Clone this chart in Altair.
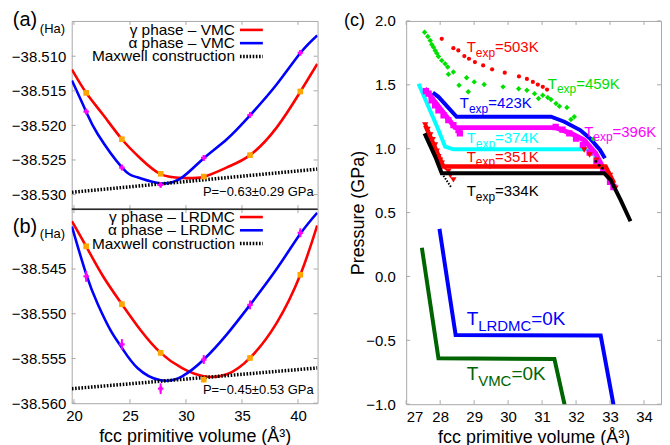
import altair as alt
import pandas as pd

FONT = "Liberation Sans"
FRAME = "#a8a8a8"

# ---------------- panels (a) and (b): energy vs volume ----------------
vol_pts = [21.09, 24.28, 27.74, 31.59, 35.72, 40.21]

vmc_gamma_E = [-38.5153, -38.5220, -38.5270, -38.5274, -38.5243, -38.5151]
vmc_gamma_err = [0.0002, 0.0002, 0.0002, 0.0002, 0.0002, 0.0002]
vmc_alpha_E = [-38.5180, -38.5261, -38.5286, -38.5247, -38.5185, -38.5095]
vmc_alpha_err = [0.0004, 0.0004, 0.0004, 0.0004, 0.0004, 0.0004]

lrdmc_gamma_E = [-38.54246, -38.54893, -38.55437, -38.55736, -38.55494, -38.54564]
lrdmc_gamma_err = [0.0003, 0.0003, 0.0003, 0.0003, 0.0003, 0.0003]
lrdmc_alpha_E = [-38.54583, -38.55343, -38.55838, -38.55512, -38.54901, -38.54095]
lrdmc_alpha_err = [0.0006, 0.0006, 0.0006, 0.0005, 0.0005, 0.0005]

# fitted curves
vmc_gamma_curve_V = [19.82, 21.09, 22.57, 24.28, 25.94, 27.74, 29.66, 31.59, 33.65, 35.72, 38.09, 40.21, 41.72]
vmc_gamma_curve_E = [-38.51193, -38.51528, -38.51840, -38.52200, -38.52478, -38.52704, -38.52761,
                     -38.52741, -38.52607, -38.52430, -38.52032, -38.51514, -38.51111]
vmc_alpha_curve_V = [19.82, 21.09, 22.13, 24.28, 25.67, 27.71, 29.66, 31.59, 33.65, 35.72, 38.09, 40.21, 41.72]
vmc_alpha_curve_E = [-38.51351, -38.51802, -38.52128, -38.52607, -38.52751, -38.52838, -38.52751,
                     -38.52474, -38.52200, -38.51855, -38.51409, -38.50953, -38.50698]
vmc_maxwell_V = [19.82, 41.72]
vmc_maxwell_E = [-38.52967, -38.52632]

lrdmc_gamma_curve_V = [19.82, 21.09, 22.57, 24.28, 25.94, 27.74, 29.66, 31.59, 33.65, 35.72, 38.09, 40.21, 41.72]
lrdmc_gamma_curve_E = [-38.53965, -38.54246, -38.54575, -38.54893, -38.55182, -38.55437, -38.55609,
                       -38.55699, -38.55677, -38.55494, -38.55104, -38.54564, -38.54013]
lrdmc_alpha_curve_V = [19.82, 21.09, 22.13, 23.31, 24.28, 25.67, 27.74, 29.66, 31.59, 33.65, 35.72, 38.09, 40.21, 41.72]
lrdmc_alpha_curve_E = [-38.54025, -38.54556, -38.54893, -38.55194, -38.55381, -38.55606, -38.55744,
                       -38.55699, -38.55512, -38.55231, -38.54901, -38.54500, -38.54107, -38.53871]
lrdmc_maxwell_V = [19.82, 41.72]
lrdmc_maxwell_E = [-38.55838, -38.55606]

ab_xticks = [20, 25, 30, 35, 40]
a_yticks = [-38.510, -38.515, -38.520, -38.525, -38.530]
b_yticks = [-38.545, -38.550, -38.555, -38.560]

# ---------------- panel (c): pressure vs volume ----------------
t503_V = [28.047, 28.389, 28.535, 28.711, 28.848, 29.023, 29.266, 29.529, 29.901, 30.319, 30.553, 30.728, 30.874, 31.020, 31.146]
t503_P = [1.860, 1.787, 1.769, 1.725, 1.704, 1.678, 1.652, 1.621, 1.595, 1.566, 1.546, 1.523, 1.502, 1.484, 1.463]

t459_V = [27.541, 27.637, 27.708, 27.754, 27.804, 27.854, 27.901, 27.950, 28.047, 28.146, 28.222, 28.243, 28.389,
          28.556, 28.778, 28.827, 29.003, 29.295, 29.851, 30.310, 30.553, 30.778, 30.895, 31.020, 31.167, 31.263,
          31.409, 31.509, 31.731, 31.947, 31.848, 32.512]
t459_P = [1.912, 1.878, 1.847, 1.815, 1.795, 1.769, 1.748, 1.722, 1.691, 1.665, 1.639, 1.582, 1.600,
          1.496, 1.556, 1.445, 1.523, 1.502, 1.484, 1.470, 1.457, 1.431, 1.393, 1.418, 1.400, 1.385,
          1.354, 1.333, 1.322, 1.250, 1.229, 1.076]

t423_V = [27.784, 27.950, 28.485, 31.263, 31.655, 32.120, 32.412, 32.705, 32.85]
t423_P = [1.439, 1.406, 1.250, 1.250, 1.211, 1.146, 1.081, 0.990, 0.925]

t396_V = [27.541, 28.439, 31.409, 31.848, 32.240, 32.579, 32.825, 33.117]
t396_P = [1.470, 1.165, 1.165, 1.120, 1.068, 0.964, 0.834, 0.705]
t396_sq_V = [27.58, 27.66, 27.75, 27.85, 27.95, 28.10, 28.24, 28.39, 28.54, 28.58,
             31.4, 31.6, 31.8, 32.0, 32.2, 32.4, 32.6, 32.8, 33.0, 33.1]
t396_sq_P = [1.45, 1.431, 1.379, 1.340, 1.301, 1.262, 1.223, 1.185, 1.146, 1.120,
             1.17, 1.15, 1.12, 1.08, 1.03, 0.97, 0.90, 0.82, 0.74, 0.70]

t374_V = [27.365, 27.950, 28.146, 28.389, 32.433, 32.98]
t374_P = [1.509, 1.146, 1.016, 0.995, 0.995, 0.77]

t351_V = [27.561, 28.047, 28.10, 32.87, 33.12]
t351_P = [1.185, 0.886, 0.861, 0.861, 0.73]
t351_tri_V = [27.56, 27.63, 27.71, 27.78, 27.85, 27.90, 27.95, 28.00, 28.05, 28.15, 28.24, 28.30, 28.39,
              32.24, 32.40, 32.60, 32.80, 33.00, 33.16]
t351_tri_P = [1.185, 1.15, 1.107, 1.07, 1.029, 0.98, 0.938, 0.91, 0.886, 0.85, 0.822, 0.79, 0.756,
              0.99, 0.95, 0.91, 0.85, 0.79, 0.69]

t334_V = [27.541, 27.854, 28.047, 32.825, 33.018, 33.310, 33.602]
t334_P = [1.120, 0.938, 0.808, 0.808, 0.756, 0.600, 0.432]
t334_meta_V = [28.047, 28.339]
t334_meta_P = [0.808, 0.692]
t334_dots_V = [32.58, 32.68, 32.77]
t334_dots_P = [0.90, 0.87, 0.847]

lrdmc0_V = [27.980, 28.456, 32.725, 33.096, 33.13]
lrdmc0_P = [0.372, -0.459, -0.463, -0.996, -1.05]
vmc0_V = [27.462, 27.950, 31.363, 31.655, 31.69]
vmc0_P = [0.224, -0.640, -0.646, -0.996, -1.05]

c_xticks = [27, 28, 29, 30, 31, 32, 33, 34]
c_yticks = [-1.0, -0.5, 0.0, 0.5, 1.0, 1.5, 2.0]

# ---------------- helpers ----------------
ONE = pd.DataFrame({"k": [0]})
AW = {"T": 0.611, "e": 0.556, "x": 0.5, "p": 0.556, "L": 0.556, "R": 0.722,
      "D": 0.722, "M": 0.833, "C": 0.722, "V": 0.667}


def txt(text, x, y, size, align="left", color="black", baseline="middle"):
    return alt.Chart(ONE).mark_text(text=text, fontSize=size, align=align, baseline=baseline,
                                    color=color, font=FONT).encode(x=alt.value(x), y=alt.value(y))


def hrule(x1, x2, y, color, width, dash=None):
    kw = dict(color=color, strokeWidth=width)
    if dash:
        kw["strokeDash"] = dash
    return alt.Chart(ONE).mark_rule(**kw).encode(x=alt.value(x1), x2=alt.value(x2), y=alt.value(y))


def inward_ticks(X, Y, xt, yt, W, H, L=4):
    dx = pd.DataFrame({"t": xt})
    dy = pd.DataFrame({"t": yt})
    col = FRAME
    return [
        alt.Chart(dx).mark_rule(color=col).encode(x=X("t"), y=alt.value(H), y2=alt.value(H - L)),
        alt.Chart(dx).mark_rule(color=col).encode(x=X("t"), y=alt.value(0), y2=alt.value(L)),
        alt.Chart(dy).mark_rule(color=col).encode(y=Y("t"), x=alt.value(0), x2=alt.value(L)),
        alt.Chart(dy).mark_rule(color=col).encode(y=Y("t"), x=alt.value(W - L), x2=alt.value(W)),
    ]


WA, HA, HB = 247, 189, 195
WC, HC = 256, 385

xs_ab = alt.Scale(domain=[19.8, 41.75], nice=False, zero=False)


def energy_panel(H, ydom, yticks, show_x, curves, pts, maxwell, legend, legend_y0, ptext, tag, top_sep):
    ys = alt.Scale(domain=ydom, nice=False, zero=False)
    if show_x:
        xaxis = alt.Axis(title="fcc primitive volume (Å³)", values=ab_xticks, ticks=False, domain=False,
                         grid=False, labelFontSize=15, labelPadding=5, titleFontSize=18,
                         titleFontWeight="normal", titlePadding=4, labelFont=FONT, titleFont=FONT,
                         labelColor="black", titleColor="black")
    else:
        xaxis = alt.Axis(title=None, labels=False, ticks=False, domain=False, grid=False)
    yaxis = alt.Axis(title=None, values=yticks, format=".3f", ticks=False, domain=False, grid=False,
                     labelFontSize=15, labelPadding=6, labelFont=FONT, labelColor="black")

    def X(f):
        return alt.X(f, type="quantitative", scale=xs_ab, axis=xaxis)

    def Y(f):
        return alt.Y(f, type="quantitative", scale=ys, axis=yaxis)

    layers = []
    for (V, E, color) in curves:
        d = pd.DataFrame({"V": V, "E": E})
        layers.append(alt.Chart(d).mark_line(color=color, strokeWidth=2.6, interpolate="natural", clip=True)
                      .encode(x=X("V"), y=Y("E")))
    dm = pd.DataFrame({"V": maxwell[0], "E": maxwell[1]})
    layers.append(alt.Chart(dm).mark_line(color="black", strokeWidth=3.5, strokeDash=[1.6, 1.6], clip=True)
                  .encode(x=X("V"), y=Y("E")))
    for (E, err, color, shape, size) in pts:
        d = pd.DataFrame({"V": vol_pts, "E": E, "err": err})
        d["lo"] = d["E"] - d["err"]
        d["hi"] = d["E"] + d["err"]
        layers.append(alt.Chart(d).mark_rule(color=color, strokeWidth=2)
                      .encode(x=X("V"), y=Y("lo"), y2=alt.Y2("hi")))
        layers.append(alt.Chart(d).mark_point(color=color, filled=True, opacity=1, shape=shape, size=size)
                      .encode(x=X("V"), y=Y("E")))
    layers += inward_ticks(X, Y, ab_xticks, yticks, WA, H)
    for i, (label, color, dash, w) in enumerate(legend):
        yy = legend_y0 + i * 13.3
        layers.append(txt(label, 164, yy, 15.5, align="right"))
        layers.append(hrule(169, 192, yy, color, w, dash))
    layers.append(txt(ptext[0], WA - 4, ptext[1], 13, align="right"))
    layers.append(txt(tag[0], -47, tag[1], 20, align="center"))
    layers.append(txt("(Ha)", -32, tag[2], 13, align="left"))
    if top_sep:
        layers.append(hrule(0, WA, 0, "black", 1.3))
    return alt.layer(*layers).properties(width=WA, height=H)


panel_a = energy_panel(
    HA, [-38.5321, -38.5049], a_yticks, False,
    [(vmc_gamma_curve_V, vmc_gamma_curve_E, "#ff0000"), (vmc_alpha_curve_V, vmc_alpha_curve_E, "#0000ff")],
    [(vmc_gamma_E, vmc_gamma_err, "#ffa500", "square", 32), (vmc_alpha_E, vmc_alpha_err, "#ff00ff", "cross", 30)],
    (vmc_maxwell_V, vmc_maxwell_E),
    [("γ phase – VMC", "#ff0000", None, 2.6), ("α phase – VMC", "#0000ff", None, 2.6),
     ("Maxwell construction", "black", [1.6, 1.6], 3.5)], 9,
    ("P=−0.63±0.29 GPa", 172), ("(a)", -1, 8), False)

panel_b = energy_panel(
    HB, [-38.560, -38.5383], b_yticks, True,
    [(lrdmc_gamma_curve_V, lrdmc_gamma_curve_E, "#ff0000"), (lrdmc_alpha_curve_V, lrdmc_alpha_curve_E, "#0000ff")],
    [(lrdmc_gamma_E, lrdmc_gamma_err, "#ffa500", "square", 32), (lrdmc_alpha_E, lrdmc_alpha_err, "#ff00ff", "cross", 30)],
    (lrdmc_maxwell_V, lrdmc_maxwell_E),
    [("γ phase – LRDMC", "#ff0000", None, 2.6), ("α phase – LRDMC", "#0000ff", None, 2.6),
     ("Maxwell construction", "black", [1.6, 1.6], 3.5)], 8,
    ("P=−0.45±0.53 GPa", 182), ("(b)", 18, 25), True)

# ---------------- panel (c) ----------------
xs_c = alt.Scale(domain=[27, 34.5], nice=False, zero=False)
ys_c = alt.Scale(domain=[-1, 2], nice=False, zero=False)
xaxis_c = alt.Axis(title="fcc primitive volume (Å³)", values=c_xticks, format="d", ticks=False, domain=False,
                   grid=False, labelFontSize=15, labelPadding=5, titleFontSize=18, titleFontWeight="normal",
                   titlePadding=4, labelFont=FONT, titleFont=FONT, labelColor="black", titleColor="black")
yaxis_c = alt.Axis(title="Pressure (GPa)", values=c_yticks, format=".1f", ticks=False, domain=False, grid=False,
                   labelFontSize=15, labelPadding=11, titleFontSize=18, titleFontWeight="normal", titleX=-39,
                   labelFont=FONT, titleFont=FONT, labelColor="black", titleColor="black")


def XC(f):
    return alt.X(f, type="quantitative", scale=xs_c, axis=xaxis_c)


def YC(f):
    return alt.Y(f, type="quantitative", scale=ys_c, axis=yaxis_c)


def cline(V, P, color, width, dash=None):
    kw = dict(color=color, strokeWidth=width, clip=True, strokeJoin="miter")
    if dash:
        kw["strokeDash"] = dash
    d = pd.DataFrame({"V": V, "P": P, "o": list(range(len(V)))})
    return alt.Chart(d).mark_line(**kw).encode(x=XC("V"), y=YC("P"), order="o:Q")


def cpts(V, P, color, shape, size):
    d = pd.DataFrame({"V": V, "P": P})
    return alt.Chart(d).mark_point(color=color, filled=True, opacity=1, shape=shape, size=size, clip=True) \
        .encode(x=XC("V"), y=YC("P"))


def sublabel(x, y, sub, rest, color, size, subsize):
    wT = AW["T"] * size
    wS = sum(AW[c] for c in sub) * subsize
    d = pd.DataFrame({"V": [x], "P": [y]})
    base = alt.Chart(d).encode(x=XC("V"), y=YC("P"))
    return [
        base.mark_text(text="T", align="left", baseline="middle", fontSize=size, color=color, font=FONT),
        base.mark_text(text=sub, align="left", baseline="middle", dx=wT, dy=size * 0.38, fontSize=subsize,
                       color=color, font=FONT),
        base.mark_text(text=rest, align="left", baseline="middle", dx=wT + wS, fontSize=size, color=color,
                       font=FONT),
    ]


c_layers = [
    cline(t423_V, t423_P, "#0000ff", 4),
    cline(t374_V, t374_P, "#00ffff", 4),
    cline(t396_V, t396_P, "#ff00ff", 5),
    cpts(t396_sq_V, t396_sq_P, "#ff00ff", "square", 40),
    cpts(t351_tri_V, t351_tri_P, "#ff0000", "triangle-down", 40),
    cline(t351_V, t351_P, "#ff0000", 4.5),
    cline(t334_meta_V, t334_meta_P, "black", 2, [1.5, 1.5]),
    cpts(t334_dots_V, t334_dots_P, "black", "circle", 8),
    cline(t334_V, t334_P, "black", 4),
    cpts(t503_V, t503_P, "#ff0000", "circle", 18),
    cpts(t459_V, t459_P, "#00e000", "diamond", 30),
    cline(lrdmc0_V, lrdmc0_P, "#0000ff", 4),
    cline(vmc0_V, vmc0_P, "#006400", 4),
]
c_layers += inward_ticks(XC, YC, c_xticks, c_yticks, WC, HC)
c_layers += sublabel(28.78, 1.795, "exp", "=503K", "#ff0000", 15, 12)
c_layers += sublabel(31.17, 1.509, "exp", "=459K", "#00e000", 15, 12)
c_layers += sublabel(28.58, 1.354, "exp", "=423K", "#0000ff", 15, 12)
c_layers += sublabel(32.24, 1.133, "exp", "=396K", "#ff00ff", 15, 12)
c_layers += sublabel(28.78, 1.081, "exp", "=374K", "#00ffff", 15, 12)
c_layers += sublabel(28.78, 0.938, "exp", "=351K", "#ff0000", 15, 12)
c_layers += sublabel(28.78, 0.666, "exp", "=334K", "black", 15, 12)
c_layers += sublabel(28.78, -0.334, "LRDMC", "=0K", "#0000ff", 19, 15)
c_layers += sublabel(28.78, -0.762, "VMC", "=0K", "#006400", 19, 15)
c_layers.append(txt("(c)", -52, 0, 18, align="center"))

panel_c = alt.layer(*c_layers).properties(width=WC, height=HC)

left = alt.vconcat(panel_a, panel_b, spacing=0, bounds="flush")
chart = alt.hconcat(left, panel_c, spacing=24).properties(
    padding={"left": 2, "top": 0, "right": 0, "bottom": 0}
).configure_view(stroke=FRAME, strokeWidth=1).configure_text(font=FONT)

chart.save("out.html", embed_options={"renderer": "svg", "actions": False})
